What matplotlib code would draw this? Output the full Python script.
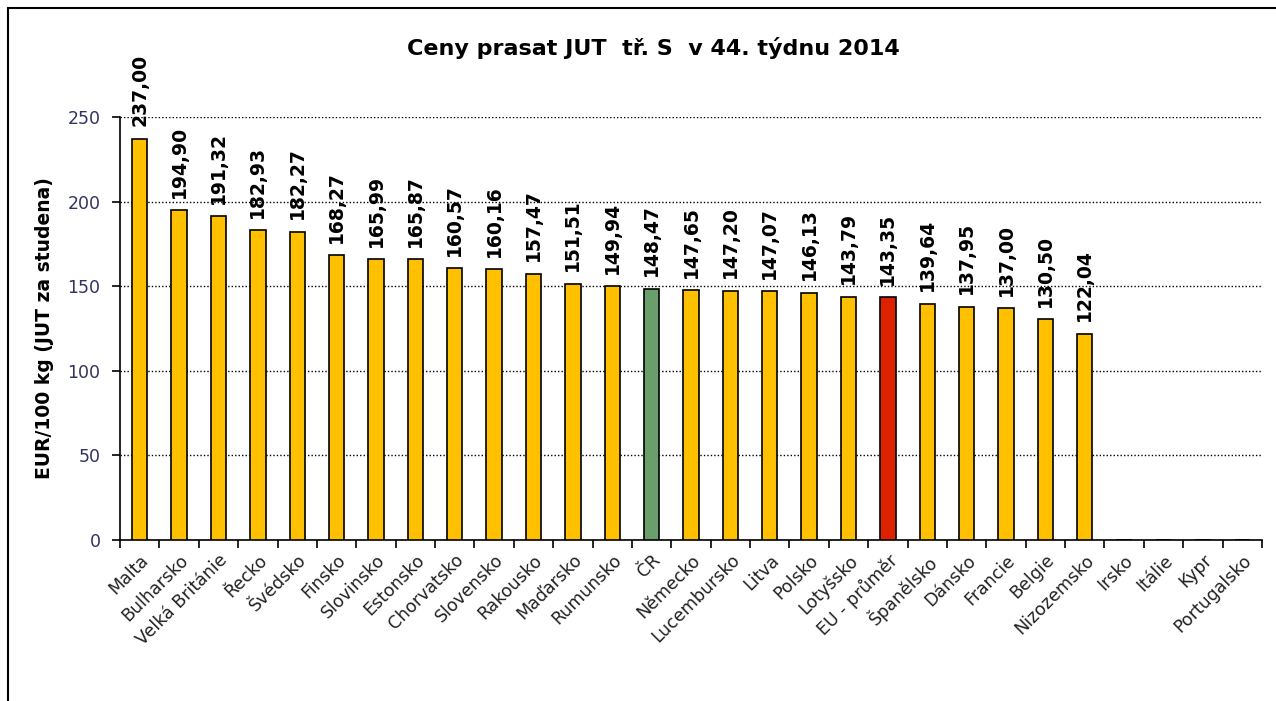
import numpy as np
import matplotlib.pyplot as plt
from matplotlib.patches import Rectangle

# Data
countries = ["Malta", "Bulharsko", "Velká Británie", "Řecko", "Švédsko", "Finsko",
             "Slovinsko", "Estonsko", "Chorvatsko", "Slovensko", "Rakousko", "Maďarsko",
             "Rumunsko", "ČR", "Německo", "Lucembursko", "Litva", "Polsko", "Lotyšsko",
             "EU - průměr", "Španělsko", "Dánsko", "Francie", "Belgie", "Nizozemsko",
             "Irsko", "Itálie", "Kypr", "Portugalsko"]
prices = [237.00, 194.90, 191.32, 182.93, 182.27, 168.27, 165.99, 165.87, 160.57,
          160.16, 157.47, 151.51, 149.94, 148.47, 147.65, 147.20, 147.07, 146.13,
          143.79, 143.35, 139.64, 137.95, 137.00, 130.50, 122.04,
          np.nan, np.nan, np.nan, np.nan]

highlight = {"ČR": "#6a9e6a", "EU - průměr": "#dd2200"}
default_color = "#ffc000"

fig = plt.figure(figsize=(12.76, 7.01), dpi=100)
ax = fig.add_axes([120 / 1276, 161 / 701, 1142 / 1276, 423 / 701])

x = np.arange(len(countries))
colors = [highlight.get(c, default_color) for c in countries]
heights = [0 if np.isnan(v) else v for v in prices]
ax.bar(x, heights, width=0.39, color=colors, edgecolor="black", linewidth=1.2, zorder=3)

# value labels above bars
for xi, v in zip(x, prices):
    if np.isnan(v):
        continue
    label = f"{v:.2f}".replace(".", ",")
    ax.annotate(label, (xi, v), xytext=(0, 9), textcoords="offset points",
                rotation=90, ha="center", va="bottom", fontsize=13.5,
                fontweight="bold", annotation_clip=False, zorder=4)

ax.set_xlim(-0.5, len(countries) - 0.5)
ax.set_ylim(0, 250)
ax.set_yticks(np.arange(0, 251, 50))
ax.yaxis.grid(True, linestyle=(0, (1, 1.5)), color="black", linewidth=1, zorder=0)

# tick marks between categories, labels centred under bars
ax.set_xticks(np.arange(-0.5, len(countries), 1.0))
ax.set_xticklabels([])
ax.set_xticks(x, minor=True)
ax.set_xticklabels(countries, minor=True, rotation=45, ha="right",
                   rotation_mode="anchor", fontsize=12.5, color="#222222")
ax.tick_params(axis="x", which="minor", length=0, pad=8)
ax.tick_params(axis="x", which="major", length=6, width=1.2, direction="out")
ax.tick_params(axis="y", length=6, width=1.2, direction="out", labelsize=12.5,
               labelcolor="#33335f", pad=8)

for side in ["top", "right"]:
    ax.spines[side].set_visible(False)
for side in ["left", "bottom"]:
    ax.spines[side].set_linewidth(1.2)
    ax.spines[side].set_color("black")

ax.set_ylabel("EUR/100 kg (JUT za studena)", fontsize=13.5, fontweight="bold", labelpad=10)
fig.text(0.512, 0.931, "Ceny prasat JUT  tř. S  v 44. týdnu 2014", ha="center",
         va="center", fontsize=16, fontweight="bold")

# outer frame
fig.patches.append(Rectangle((8 / 1276, -0.01), 1.02, 1 - 8 / 701 + 0.01,
                             transform=fig.transFigure, fill=False,
                             edgecolor="black", linewidth=1.5))

fig.savefig("out.png", dpi=100)
